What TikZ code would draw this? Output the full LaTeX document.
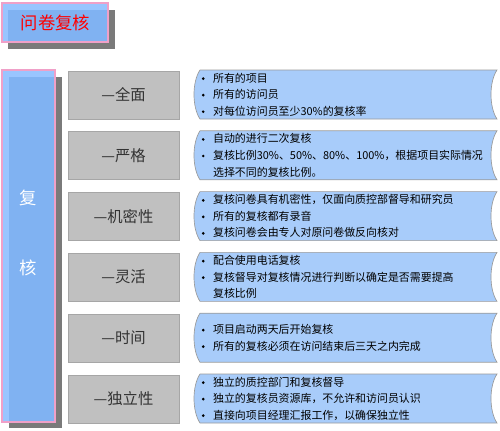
\documentclass[tikz,border=0pt]{standalone}
\usepackage{fontspec}
\newfontfamily\cjk{Noto Sans CJK SC}
\definecolor{shadowgray}{HTML}{7A7A7A}
\definecolor{lightblue}{HTML}{99C5FF}
\definecolor{midblue}{HTML}{80B2F2}
\definecolor{pinkline}{HTML}{F0A0C8}
\definecolor{boxgray}{HTML}{C0C0C0}
\definecolor{boxline}{HTML}{A6A6A6}
\definecolor{scrollblue}{HTML}{A8CCFA}
\definecolor{scrollline}{HTML}{9A9A9A}
\definecolor{labeltext}{HTML}{333333}
\tikzset{
  pinkframe/.style={draw=pinkline, line width=0.8pt},
  titletext/.style={font=\cjk\fontsize{13pt}{15pt}\selectfont, text=red, inner sep=0pt},
  sidetext/.style={font=\cjk\fontsize{13pt}{15pt}\selectfont, text=white, inner sep=0pt},
  graybox/.style={fill=boxgray, draw=boxline, line width=0.5pt},
  graylabel/.style={font=\cjk\fontsize{11.5pt}{13pt}\selectfont, text=labeltext, inner sep=0pt},
  scrollshape/.style={fill=scrollblue, draw=scrollline, line width=0.5pt},
  bullettext/.style={font=\cjk\fontsize{8.2pt}{12.4pt}\selectfont, text=black, inner sep=0pt, anchor=west, align=left}
}
\newcommand{\bl}{\makebox[8.5pt][l]{\tikz[baseline=-2.6pt]\fill[black] (0,0) circle (1.1pt);}}
\begin{document}
\begin{tikzpicture}[x=0.75pt,y=-0.75pt]
\useasboundingbox (0,0) rectangle (500,430);
% title
\fill[shadowgray] (8,10) rectangle (115,49);
\fill[lightblue] (2,3) rectangle (108,42);
\fill[midblue] (8,10) rectangle (108,42);
\draw[pinkframe] (2,3) rectangle (108,42);
\node[titletext] (title) at (55.5,22.5) {问卷复核};
% left tall box
\fill[shadowgray] (9,77) rectangle (62,428);
\fill[lightblue] (2,70) rectangle (55,422);
\fill[midblue] (9,77) rectangle (55,422);
\draw[pinkframe] (2,70) rectangle (55,422);
\node[sidetext] (fu) at (28.5,198) {复};
\node[sidetext] (he) at (28.5,268) {核};
% rows
\foreach \i/\lab/\txt in {
 0/{全面}/{\bl 所有的项目\\ \bl 所有的访问员\\ \bl 对每位访问员至少30\%的复核率},
 1/{严格}/{\bl 自动的进行二次复核\\ \bl 复核比例30\%、50\%、80\%、100\%，根据项目实际情况\\ \hspace*{8.5pt}选择不同的复核比例。},
 2/{机密性}/{\bl 复核问卷具有机密性，仅面向质控部督导和研究员\\ \bl 所有的复核都有录音\\ \bl 复核问卷会由专人对原问卷做反向核对},
 3/{灵活}/{\bl 配合使用电话复核\\ \bl 复核督导对复核情况进行判断以确定是否需要提高\\ \hspace*{8.5pt}复核比例},
 4/{时间}/{\bl 项目启动两天后开始复核\\ \bl 所有的复核必须在访问结束后三天之内完成},
 5/{独立性}/{\bl 独立的质控部门和复核督导\\ \bl 独立的复核员资源库，不允许和访问员认识\\ \bl 直接向项目经理汇报工作，以确保独立性}}
{
  \pgfmathsetmacro{\t}{70+60.8*\i}
  \pgfmathsetmacro{\b}{\t+49}
  \pgfmathsetmacro{\c}{\t+24.5}
  \draw[graybox] (68,\t+1) rectangle (179,\b);
  \node[graylabel] (lab\i) at (123.5,\c) {—\lab};
  \draw[scrollshape] (200,\t) -- (497,\t) .. controls (489,\t+12) and (489,\b-12) .. (497,\b) -- (200,\b) .. controls (192,\b-12) and (192,\t+12) .. (200,\t) -- cycle;
  \node[bullettext] (txt\i) at (201.5,\c) {\txt};
}
\end{tikzpicture}
\end{document}
